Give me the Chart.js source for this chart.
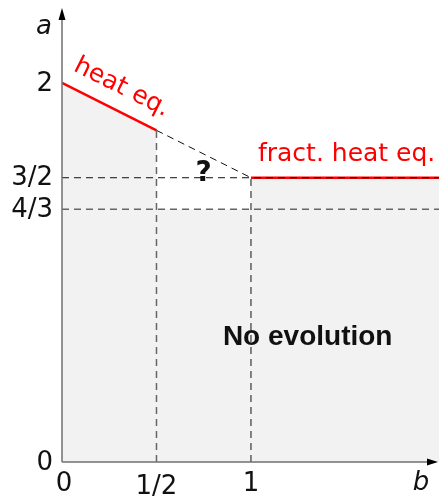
<!DOCTYPE html>
<html><head><meta charset="utf-8">
<script src="https://cdn.jsdelivr.net/npm/chart.js@4"></script>
<style>html,body{margin:0;padding:0;background:#fff}#c{display:block}</style>
</head><body>
<canvas id="c" width="439" height="500"></canvas>
<script>
const bTicks = [0, 0.5, 1];
const bTickLabels = ['0', '1/2', '1'];
const aTicks = [0, 4/3, 1.5, 2];
const aTickLabels = ['0', '4/3', '3/2', '2'];
const regionB = [0, 0.5, 0.5, 1, 1, 2];
const regionA = [2, 1.75, 4/3, 4/3, 1.5, 1.5];
const heatB = [0, 0.5];
const heatA = [2, 1.75];
const fractB = [1, 2];
const fractA = [1.5, 1.5];
const guessB = [0.5, 1];
const guessA = [1.75, 1.5];

const pts = (xs, ys) => xs.map((x, i) => ({x, y: ys[i]}));
const FONT = '"DejaVu Sans", sans-serif';

const drawPlugin = {
  id: 'decor',
  afterDatasetsDraw(chart) {
    const {ctx, scales: {x, y}} = chart;
    const x0 = x.getPixelForValue(0), y0 = y.getPixelForValue(0);
    ctx.save();
    const dashed = (b1, a1, b2, a2, color, w) => {
      ctx.beginPath();
      ctx.setLineDash([7, 5]);
      ctx.strokeStyle = color; ctx.lineWidth = w;
      ctx.moveTo(x.getPixelForValue(b1), y.getPixelForValue(a1));
      ctx.lineTo(x.getPixelForValue(b2), y.getPixelForValue(a2));
      ctx.stroke();
    };
    dashed(0, 4/3, 2, 4/3, '#666', 1.5);
    dashed(0.5, 0, 0.5, heatA[1], '#666', 1.5);
    dashed(0, 1.5, 2, 1.5, '#111', 1);
    dashed(1, 0, 1, 1.5, '#111', 1);
    dashed(guessB[0], guessA[0], guessB[1], guessA[1], '#111', 1);
    ctx.setLineDash([]);
    // axes
    ctx.strokeStyle = '#707070'; ctx.lineWidth = 1.5;
    ctx.beginPath();
    ctx.moveTo(x0, y0); ctx.lineTo(x0, y.top + 8);
    ctx.moveTo(x0, y0); ctx.lineTo(x.right - 6, y0);
    ctx.stroke();
    ctx.fillStyle = '#000';
    ctx.beginPath();
    ctx.moveTo(x0, y.top - 2); ctx.lineTo(x0 - 3.5, y.top + 10); ctx.lineTo(x0 + 3.5, y.top + 10); ctx.closePath(); ctx.fill();
    ctx.beginPath();
    ctx.moveTo(x.right - 1, y0); ctx.lineTo(x.right - 12, y0 - 3.5); ctx.lineTo(x.right - 12, y0 + 3.5); ctx.closePath(); ctx.fill();
    // tick labels
    ctx.fillStyle = '#111';
    ctx.font = '26px ' + FONT;
    ctx.textAlign = 'right'; ctx.textBaseline = 'middle';
    aTicks.forEach((v, i) => ctx.fillText(aTickLabels[i], x0 - 9, y.getPixelForValue(v) + 1));
    ctx.textAlign = 'center'; ctx.textBaseline = 'middle';
    bTicks.forEach((v, i) => ctx.fillText(bTickLabels[i], x.getPixelForValue(v) + (v === 0 ? 2 : 0), y0 + 22 + (v === 0.5 ? 3 : 0)));
    ctx.font = 'italic 26px ' + FONT;
    ctx.fillText('a', x0 - 18, y.top + 17);
    ctx.fillText('b', x.right - 18, y0 + 21);
    // annotations
    ctx.fillStyle = '#ff0000';
    ctx.font = '25px ' + FONT;
    ctx.textAlign = 'left'; ctx.textBaseline = 'alphabetic';
    ctx.fillText('fract. heat eq.', x.getPixelForValue(1) + 7, y.getPixelForValue(1.5) - 17);
    const hx = x.getPixelForValue(0.30), hy = y.getPixelForValue(1.945);
    ctx.save();
    ctx.translate(hx, hy);
    ctx.rotate(Math.atan2(y.getPixelForValue(heatA[1]) - y.getPixelForValue(heatA[0]), x.getPixelForValue(heatB[1]) - x.getPixelForValue(heatB[0])));
    ctx.textAlign = 'center'; ctx.textBaseline = 'alphabetic';
    ctx.font = '25px ' + FONT;
    ctx.fillText('heat eq.', 0, 0);
    ctx.restore();
    ctx.fillStyle = '#111';
    ctx.textAlign = 'center'; ctx.textBaseline = 'middle';
    ctx.font = 'bold 28px ' + FONT;
    ctx.fillText('?', x.getPixelForValue(0.75), y.getPixelForValue(1.52));
    ctx.font = 'bold 28px "Liberation Sans", sans-serif';
    ctx.fillText('No evolution', x.getPixelForValue(1.3), y.getPixelForValue(0.66));
    ctx.restore();
  }
};

new Chart(document.getElementById('c'), {
  type: 'scatter',
  data: {
    datasets: [
      {data: pts(regionB, regionA), showLine: true, fill: 'origin', backgroundColor: '#f2f2f2', borderWidth: 0, pointRadius: 0, order: 3},
      {data: pts(heatB, heatA), showLine: true, borderColor: '#ff0000', borderWidth: 2.5, pointRadius: 0, fill: false, order: 1},
      {data: pts(fractB, fractA), showLine: true, borderColor: '#ff0000', borderWidth: 2.5, pointRadius: 0, fill: false, order: 1}
    ]
  },
  options: {
    responsive: false,
    animation: false,
    layout: {padding: {left: 62, top: 10, right: 0, bottom: 38}},
    plugins: {legend: {display: false}, tooltip: {enabled: false}},
    scales: {
      x: {type: 'linear', display: false, min: 0, max: 1.995},
      y: {type: 'linear', display: false, min: 0, max: 2.385}
    }
  },
  plugins: [drawPlugin]
});
</script>
</body></html>
